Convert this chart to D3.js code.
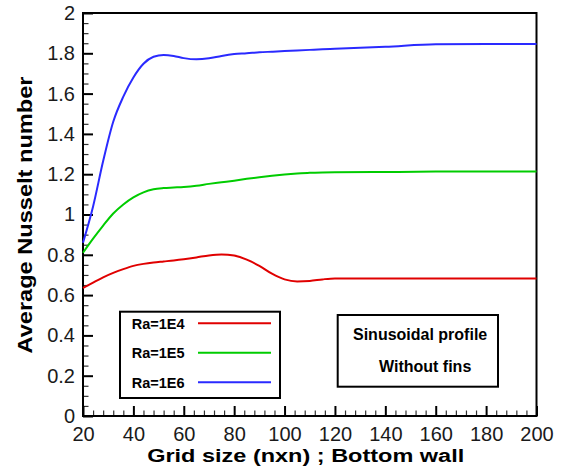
<!DOCTYPE html>
<html>
<head>
<meta charset="utf-8">
<script src="https://cdn.jsdelivr.net/npm/d3@7"></script>
<style>
  body { margin: 0; background: #fff; }
  text { font-family: "Liberation Sans", Arial, sans-serif; }
</style>
</head>
<body>
<script>
// grid sizes
var gridSize = [20, 24, 28, 32, 36, 40, 44, 48, 52, 56, 60, 65, 70, 75, 80, 85, 90, 95, 100, 105, 110, 115, 120, 140, 160, 180, 200];
var nuRa1e4 = [0.635, 0.662, 0.688, 0.71, 0.729, 0.745, 0.755, 0.762, 0.767, 0.772, 0.778, 0.787, 0.797, 0.802, 0.796, 0.776, 0.745, 0.706, 0.678, 0.668, 0.670, 0.678, 0.683, 0.683, 0.683, 0.683, 0.683];
var nuRa1e5 = [0.81, 0.88, 0.945, 1.005, 1.05, 1.085, 1.11, 1.125, 1.131, 1.134, 1.137, 1.143, 1.152, 1.16, 1.168, 1.177, 1.185, 1.192, 1.198, 1.203, 1.207, 1.209, 1.21, 1.211, 1.213, 1.213, 1.213];
var nuRa1e6 = [0.86, 1.04, 1.265, 1.46, 1.585, 1.68, 1.748, 1.783, 1.792, 1.787, 1.776, 1.770, 1.775, 1.787, 1.796, 1.800, 1.805, 1.808, 1.811, 1.814, 1.817, 1.820, 1.822, 1.832, 1.845, 1.846, 1.846];
var seriesNames = ["Ra=1E4", "Ra=1E5", "Ra=1E6"];
var xTicks = [20, 40, 60, 80, 100, 120, 140, 160, 180, 200];
var yTicks = [0, 0.2, 0.4, 0.6, 0.8, 1, 1.2, 1.4, 1.6, 1.8, 2];
var noteLines = ["Sinusoidal profile", "Without fins"];

var width = 563,
    height = 474;
var margin = {top: 13, right: 26.5, bottom: 58, left: 83};
var colors = ["#e00000", "#00cc00", "#2a2aff"];

var svg = d3.select("body")
    .append("svg")
    .attr("width", width)
    .attr("height", height);

var x = d3.scaleLinear().domain([20, 200]).range([margin.left, width - margin.right]);
var y = d3.scaleLinear().domain([0, 2]).range([height - margin.bottom, margin.top]);

// minor ticks
var xMinor = d3.range(20, 200.1, 4).filter(function (d) { return d % 20 !== 0; });
var yMinor = d3.range(0, 40).map(function (i) { return i * 0.05; }).filter(function (d, i) { return i % 4 !== 0; });

svg.append("g")
    .attr("transform", "translate(0," + y(0) + ")")
    .call(d3.axisBottom(x).tickValues(xMinor).tickSize(-5.5).tickFormat(""))
    .call(function (g) { g.select(".domain").remove(); g.selectAll("line").attr("stroke", "#333").attr("stroke-width", 1.2); });
svg.append("g")
    .attr("transform", "translate(" + x(20) + ",0)")
    .call(d3.axisLeft(y).tickValues(yMinor).tickSize(-5.5).tickFormat(""))
    .call(function (g) { g.select(".domain").remove(); g.selectAll("line").attr("stroke", "#333").attr("stroke-width", 1.2); });

// major ticks + labels
var xAxis = svg.append("g")
    .attr("transform", "translate(0," + y(0) + ")")
    .call(d3.axisBottom(x).tickValues(xTicks).tickSize(-10).tickPadding(11).tickFormat(d3.format("d")));
var yAxis = svg.append("g")
    .attr("transform", "translate(" + x(20) + ",0)")
    .call(d3.axisLeft(y).tickValues(yTicks).tickSize(-10).tickPadding(8)
        .tickFormat(function (d) { return String(+d.toFixed(1)); }));
[xAxis, yAxis].forEach(function (g) {
    g.select(".domain").remove();
    g.selectAll("line").attr("stroke", "#000").attr("stroke-width", 2);
    g.selectAll("text").attr("fill", "#1a1a1a").style("font-size", "20px");
});

// frame
svg.append("rect")
    .attr("x", x(20))
    .attr("y", y(2))
    .attr("width", x(200) - x(20))
    .attr("height", y(0) - y(2))
    .attr("fill", "none")
    .attr("stroke", "#000")
    .attr("stroke-width", 2);

// curves
var line = d3.line()
    .x(function (d) { return x(d[0]); })
    .y(function (d) { return y(d[1]); })
    .curve(d3.curveMonotoneX);
[nuRa1e4, nuRa1e5, nuRa1e6].forEach(function (vals, i) {
    svg.append("path")
        .datum(gridSize.map(function (g, j) { return [g, vals[j]]; }))
        .attr("d", line)
        .attr("fill", "none")
        .attr("stroke", colors[i])
        .attr("stroke-width", 2);
});

// axis titles
svg.append("text")
    .attr("x", 305.7)
    .attr("y", 462)
    .attr("text-anchor", "middle")
    .attr("textLength", 317)
    .attr("lengthAdjust", "spacingAndGlyphs")
    .style("font-size", "18px")
    .style("font-weight", "bold")
    .text("Grid size (nxn) ; Bottom wall");
svg.append("text")
    .attr("transform", "translate(32,215) rotate(-90)")
    .attr("text-anchor", "middle")
    .attr("textLength", 277)
    .attr("lengthAdjust", "spacingAndGlyphs")
    .style("font-size", "21px")
    .style("font-weight", "bold")
    .text("Average Nusselt number");

// legend
var legend = svg.append("g");
legend.append("rect")
    .attr("x", 120).attr("y", 311.7)
    .attr("width", 160).attr("height", 86.3)
    .attr("fill", "#fff").attr("stroke", "#000").attr("stroke-width", 2);
seriesNames.forEach(function (name, i) {
    var ry = 323.3 + i * 29.5;
    legend.append("text")
        .attr("x", 131.7).attr("y", ry).attr("dy", "0.36em")
        .style("font-size", "14.5px").style("font-weight", "bold")
        .text(name);
    legend.append("line")
        .attr("x1", 198).attr("x2", 271)
        .attr("y1", ry).attr("y2", ry)
        .attr("stroke", colors[i]).attr("stroke-width", 2);
});

// note box
var note = svg.append("g");
note.append("rect")
    .attr("x", 337.7).attr("y", 315)
    .attr("width", 160.3).attr("height", 71.7)
    .attr("fill", "#fff").attr("stroke", "#000").attr("stroke-width", 2);
note.append("text")
    .attr("x", 353).attr("y", 334).attr("dy", "0.36em")
    .style("font-size", "16px").style("font-weight", "bold")
    .text(noteLines[0]);
note.append("text")
    .attr("x", 379).attr("y", 366.7).attr("dy", "0.36em")
    .style("font-size", "16px").style("font-weight", "bold")
    .text(noteLines[1]);
</script>
</body>
</html>
